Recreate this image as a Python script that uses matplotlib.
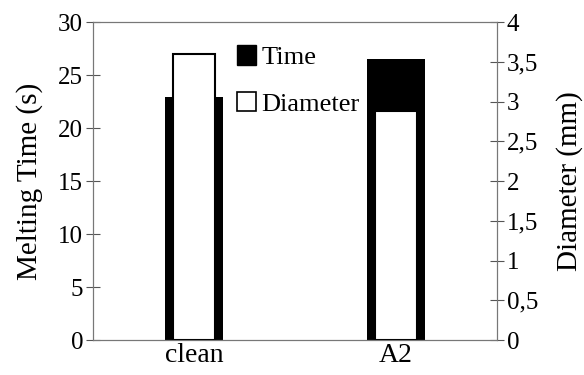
import numpy as np
import matplotlib.pyplot as plt
from matplotlib.patches import Patch

plt.rcParams['font.family'] = ['Liberation Serif', 'DejaVu Serif']

categories = ['clean', 'A2']
melting_time = [22.9, 26.5]     # s
diameter = [3.6, 2.88]          # mm
right_ticks = [0, 0.5, 1, 1.5, 2, 2.5, 3, 3.5, 4]
right_labels = ['0', '0,5', '1', '1,5', '2', '2,5', '3', '3,5', '4']

fig = plt.figure(figsize=(5.84, 3.75), dpi=100)
ax = fig.add_axes([0.159, 0.093, 0.692, 0.848])
x = np.arange(len(categories))

ax.bar(x, melting_time, width=0.29, color='black', zorder=2)
ax.set_ylim(0, 30)
ax.set_xlim(-0.5, 1.5)
ax.set_yticks(range(0, 31, 5))
ax.set_ylabel('Melting Time (s)', fontsize=21, labelpad=11)
ax.set_xticks(x)
ax.set_xticklabels(categories, fontsize=20)
ax.tick_params(axis='x', length=0, pad=2)
ax.tick_params(axis='y', direction='inout', length=10, width=0.8,
               color='#555555', labelsize=18, pad=2)

ax2 = ax.twinx()
ax2.bar(x, diameter, width=0.21, color='white', edgecolor='black', linewidth=1.5)
ax2.set_ylim(0, 4)
ax2.set_yticks(right_ticks)
ax2.set_yticklabels(right_labels)
ax2.set_ylabel('Diameter (mm)', fontsize=21, labelpad=13)
ax2.tick_params(axis='y', direction='inout', length=10, width=0.8,
                color='#555555', labelsize=18, pad=2)

for a in (ax, ax2):
    for s in a.spines.values():
        s.set_color('#777777')
        s.set_linewidth(0.8)

handles = [Patch(facecolor='black', edgecolor='black'),
           Patch(facecolor='white', edgecolor='black', linewidth=1.2)]
ax2.legend(handles, ['Time', 'Diameter'], loc='upper left',
           bbox_to_anchor=(0.31, 0.985), frameon=False, fontsize=19,
           handlelength=0.75, handleheight=0.75, handletextpad=0.2,
           labelspacing=0.85, borderaxespad=0.3)

fig.savefig('out.png', dpi=100)
